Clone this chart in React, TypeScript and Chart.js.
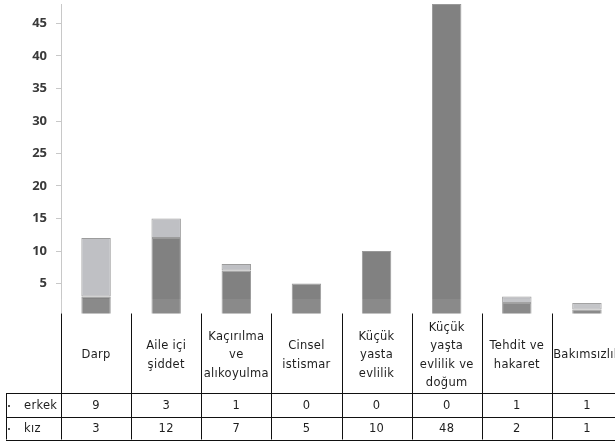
import React, { useEffect, useRef } from "react";
import { Chart, registerables } from "chart.js";

Chart.register(...registerables);

const CATEGORIES: string[][] = [
  ["Darp"],
  ["Aile içi", "şiddet"],
  ["Kaçırılma", "ve", "alıkoyulma"],
  ["Cinsel", "istismar"],
  ["Küçük", "yasta", "evlilik"],
  ["Küçük", "yaşta", "evlilik ve", "doğum"],
  ["Tehdit ve", "hakaret"],
  ["Bakımsızlık"],
];
const ERKEK: number[] = [9, 3, 1, 0, 0, 0, 1, 1];
const KIZ: number[] = [3, 12, 7, 5, 10, 48, 2, 1];
const SERIES_NAMES = ["erkek", "kız"];
const Y_TICKS: number[] = [5, 10, 15, 20, 25, 30, 35, 40, 45];
const Y_MAX = 48;

const TEXT_FONT = "11.5px 'DejaVu Sans'";

const tablePlugin = {
  id: "dataTable",
  afterDraw(chart: any) {
    const ctx = chart.ctx as CanvasRenderingContext2D;
    const x = chart.scales.x;
    const W = chart.width;
    const headerTop = 313.5;
    const row1 = 393;
    const row2 = 416.5;
    const row3 = 439.5;
    ctx.save();
    // subtle light band at the bottom of the plot
    ctx.fillStyle = "rgba(255,255,255,0.08)";
    ctx.fillRect(0, 299, W, headerTop - 299);
    // cover below the plot
    ctx.fillStyle = "#ffffff";
    ctx.fillRect(0, headerTop, W, chart.height - headerTop);

    const n = CATEGORIES.length;
    const half = (x.getPixelForValue(1) - x.getPixelForValue(0)) / 2;

    ctx.strokeStyle = "#111111";
    ctx.lineWidth = 1;
    ctx.beginPath();
    for (let i = 0; i <= n; i++) {
      const px = Math.round(
        i < n ? x.getPixelForValue(i) - half : x.getPixelForValue(n - 1) + half
      ) + 0.5;
      ctx.moveTo(px, headerTop);
      ctx.lineTo(px, row3);
    }
    [row1, row2, row3].forEach((y) => {
      ctx.moveTo(6, Math.round(y) + 0.5);
      ctx.lineTo(W, Math.round(y) + 0.5);
    });
    ctx.moveTo(6.5, row1);
    ctx.lineTo(6.5, row3);
    ctx.stroke();

    // header labels
    ctx.fillStyle = "#1e1e1e";
    ctx.font = TEXT_FONT;
    (ctx as any).letterSpacing = "0.3px";
    ctx.textAlign = "center";
    ctx.textBaseline = "middle";
    const lineH = 18.5;
    const headerCenter = 355.5;
    CATEGORIES.forEach((lines, i) => {
      const cx = x.getPixelForValue(i);
      const start = headerCenter - ((lines.length - 1) * lineH) / 2;
      lines.forEach((ln, j) => {
        ctx.fillText(ln, cx, start + j * lineH);
      });
    });

    // rows
    const rows = [
      { name: SERIES_NAMES[0], vals: ERKEK, y: (row1 + row2) / 2 + 1 },
      { name: SERIES_NAMES[1], vals: KIZ, y: (row2 + row3) / 2 + 1 },
    ];
    rows.forEach((r) => {
      ctx.fillStyle = "#555555";
      ctx.fillRect(8, Math.round(r.y) - 1, 2, 2);
      ctx.fillStyle = "#1e1e1e";
      ctx.textAlign = "left";
      ctx.fillText(r.name, 24, r.y);
      ctx.textAlign = "center";
      r.vals.forEach((v, i) => {
        ctx.fillText(String(v), x.getPixelForValue(i), r.y);
      });
    });
    ctx.restore();
  },
};

export default function App() {
  const ref = useRef<HTMLCanvasElement | null>(null);
  useEffect(() => {
    if (!ref.current) return;
    const chart = new Chart(ref.current, {
      type: "bar",
      data: {
        labels: CATEGORIES.map((c) => c.join(" ")),
        datasets: [
          {
            label: SERIES_NAMES[1],
            data: KIZ,
            backgroundColor: "#818181",
            borderColor: "#999999",
            borderWidth: { left: 1, right: 1, top: 1, bottom: 0 } as any,
            borderSkipped: false,
          },
          {
            label: SERIES_NAMES[0],
            data: ERKEK,
            backgroundColor: "#bfc0c4",
            borderColor: "#9c9c9c",
            borderWidth: 1,
            borderSkipped: false,
          },
        ],
      },
      options: {
        animation: false,
        responsive: false,
        maintainAspectRatio: false,
        devicePixelRatio: 1,
        layout: { padding: { top: 4, bottom: 127, left: 0, right: 0 } },
        plugins: {
          legend: { display: false },
          tooltip: { enabled: false },
          title: { display: false },
        },
        datasets: {
          bar: { categoryPercentage: 1, barPercentage: 0.42 },
        } as any,
        scales: {
          x: {
            stacked: true,
            display: false,
          },
          y: {
            stacked: true,
            min: 0,
            max: Y_MAX,
            afterBuildTicks: (scale: any) => {
              scale.ticks = Y_TICKS.map((v) => ({ value: v }));
            },
            afterFit: (scale: any) => {
              scale.width = 61;
              scale.paddingTop = 0;
              scale.paddingBottom = 0;
            },
            grid: {
              display: true,
              drawOnChartArea: false,
              drawTicks: true,
              tickLength: 5,
              color: "#c8c8c8",
            },
            border: { display: true, color: "#c8c8c8", width: 1 },
            ticks: {
              padding: 9,
              color: "#3a3a3a",
              font: { family: "'Open Sans'", size: 13, weight: "bold" as any },
            },
          },
        },
      },
      plugins: [tablePlugin],
    });
    return () => chart.destroy();
  }, []);
  return (
    <div
      style={{
        position: "absolute",
        left: 0,
        top: 0,
        width: 615,
        height: 443,
        overflow: "hidden",
        background: "#fff",
      }}
    >
      <canvas ref={ref} width={622} height={443} style={{ width: 622, height: 443, display: "block" }} />
    </div>
  );
}
